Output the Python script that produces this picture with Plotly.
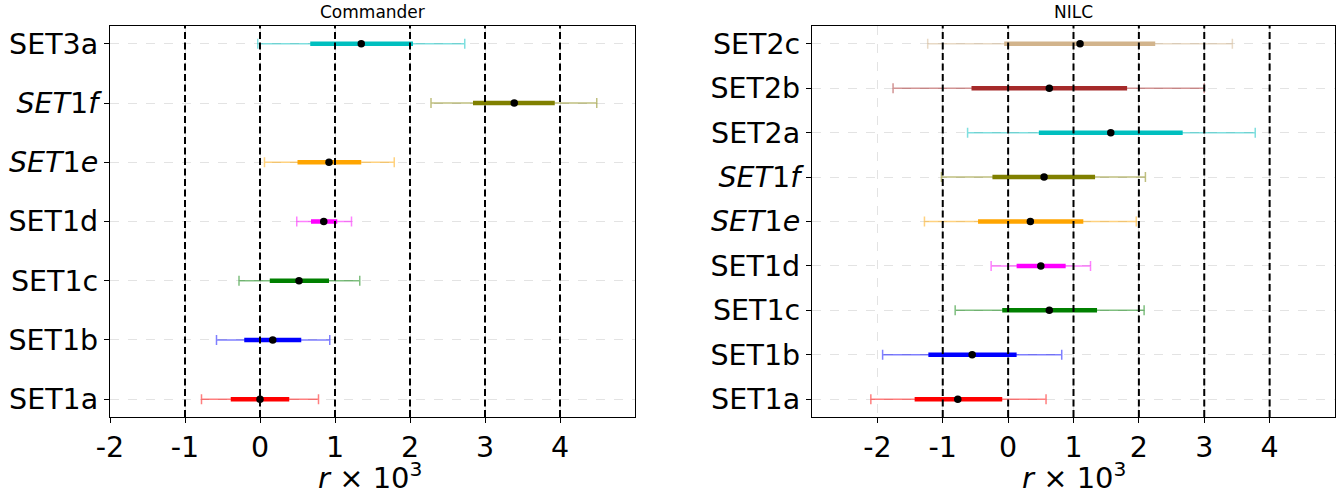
import plotly.graph_objects as go

# ---------------- data ----------------
# Commander panel (bottom to top)
cmd_labels = ["SET1a", "SET1b", "SET1c", "SET1d", "<i>SET</i>1<i>e</i>", "<i>SET</i>1<i>f</i>", "SET3a"]
cmd_center = [0.00, 0.17, 0.52, 0.85, 0.92, 3.39, 1.35]
cmd_lo68 = [-0.39, -0.21, 0.13, 0.68, 0.50, 2.84, 0.67]
cmd_hi68 = [0.39, 0.55, 0.92, 1.03, 1.35, 3.93, 2.04]
cmd_lo95 = [-0.78, -0.58, -0.28, 0.49, 0.06, 2.28, -0.03]
cmd_hi95 = [0.78, 0.93, 1.33, 1.22, 1.79, 4.49, 2.73]
cmd_colors = ["red", "blue", "green", "magenta", "orange", "olive", "c"]

# NILC panel (bottom to top)
nilc_labels = ["SET1a", "SET1b", "SET1c", "SET1d", "<i>SET</i>1<i>e</i>", "<i>SET</i>1<i>f</i>",
               "SET2a", "SET2b", "SET2c"]
nilc_center = [-0.77, -0.55, 0.63, 0.50, 0.34, 0.55, 1.57, 0.63, 1.10]
nilc_lo68 = [-1.43, -1.22, -0.09, 0.13, -0.46, -0.24, 0.47, -0.56, -0.06]
nilc_hi68 = [-0.09, 0.13, 1.36, 0.88, 1.15, 1.33, 2.67, 1.82, 2.25]
nilc_lo95 = [-2.10, -1.92, -0.81, -0.26, -1.28, -1.02, -0.62, -1.76, -1.23]
nilc_hi95 = [0.58, 0.82, 2.08, 1.26, 1.96, 2.10, 3.78, 3.00, 3.43]
nilc_colors = ["red", "blue", "green", "magenta", "orange", "olive", "c", "brown", "tan"]

x_ticks = [-2, -1, 0, 1, 2, 3, 4]
ref_lines = [-1, 0, 1, 2, 3, 4]

# ---------------- styling ----------------
COLORS = {
    "red": (255, 0, 0), "blue": (0, 0, 255), "green": (0, 128, 0),
    "magenta": (255, 0, 255), "orange": (255, 165, 0), "olive": (128, 128, 0),
    "c": (0, 191, 191), "brown": (165, 42, 42), "tan": (210, 180, 140),
}


def rgba(name, a):
    r, g, b = COLORS[name]
    return f"rgba({r},{g},{b},{a})"


FONT = "DejaVu Sans"
fig = go.Figure()


def add_panel(center, lo68, hi68, lo95, hi95, colors, xa, ya):
    for i in range(len(center)):
        c = center[i]
        # 95% thin bar with caps
        fig.add_trace(go.Scatter(
            x=[c], y=[i], mode="markers", marker=dict(size=1, opacity=0),
            error_x=dict(type="data", symmetric=False, array=[hi95[i] - c],
                         arrayminus=[c - lo95[i]], color=rgba(colors[i], 0.5),
                         thickness=1.5, width=5),
            xaxis=xa, yaxis=ya, showlegend=False, hoverinfo="skip"))
        # 68% thick bar
        fig.add_trace(go.Scatter(
            x=[c], y=[i], mode="markers", marker=dict(size=1, opacity=0),
            error_x=dict(type="data", symmetric=False, array=[hi68[i] - c],
                         arrayminus=[c - lo68[i]], color=rgba(colors[i], 1),
                         thickness=4.5, width=0),
            xaxis=xa, yaxis=ya, showlegend=False, hoverinfo="skip"))
    fig.add_trace(go.Scatter(
        x=center, y=list(range(len(center))), mode="markers",
        marker=dict(color="black", size=7.5), xaxis=xa, yaxis=ya, showlegend=False))


add_panel(cmd_center, cmd_lo68, cmd_hi68, cmd_lo95, cmd_hi95, cmd_colors, "x", "y")
add_panel(nilc_center, nilc_lo68, nilc_hi68, nilc_lo95, nilc_hi95, nilc_colors, "x2", "y2")

shapes = []
for xa, ya in (("x", "y"), ("x2", "y2")):
    for v in ref_lines:
        shapes.append(dict(type="line", xref=xa, yref=f"{ya} domain", x0=v, x1=v, y0=0, y1=1,
                           line=dict(color="black", width=2, dash="7px,3.5px"), layer="above"))

top = 1 - 26 / 491
bot = 1 - 417 / 491

axis_common = dict(
    showline=True, linecolor="black", linewidth=1.2, mirror=True,
    ticks="outside", ticklen=5, tickwidth=1, tickcolor="black",
    showgrid=True, gridcolor="#e3e3e3", griddash="dash", gridwidth=1,
    zeroline=False, tickfont=dict(family=FONT, size=28.5, color="black"),
    automargin=False,
)

XTITLE = "<i>r</i> × 10<sup>3</sup>"
TITLE_Y = 1 - 476 / 491

fig.update_layout(
    width=1344, height=491, margin=dict(l=0, r=0, t=0, b=0),
    paper_bgcolor="white", plot_bgcolor="white",
    font=dict(family=FONT, color="black"),
    shapes=shapes,
    xaxis=dict(domain=[110 / 1344, 635 / 1344], range=[-2, 5], tickvals=x_ticks,
               ticktext=[str(t) for t in x_ticks], anchor="y", **axis_common),
    yaxis=dict(domain=[bot, top], range=[-0.3, len(cmd_labels) - 0.7],
               tickvals=list(range(len(cmd_labels))), ticktext=cmd_labels, anchor="x",
               **axis_common),
    xaxis2=dict(domain=[812 / 1344, 1335 / 1344], range=[-3, 5], tickvals=x_ticks,
                ticktext=[str(t) for t in x_ticks], anchor="y2", **axis_common),
    yaxis2=dict(domain=[bot, top], range=[-0.4, len(nilc_labels) - 0.6],
                tickvals=list(range(len(nilc_labels))), ticktext=nilc_labels, anchor="x2",
                **axis_common),
    annotations=[
        dict(text="Commander", x=(110 + 635) / 2 / 1344, y=1 - 12 / 491, xref="paper", yref="paper",
             showarrow=False, font=dict(family=FONT, size=17, color="black"),
             xanchor="center", yanchor="middle"),
        dict(text="NILC", x=(812 + 1335) / 2 / 1344, y=1 - 12 / 491, xref="paper", yref="paper",
             showarrow=False, font=dict(family=FONT, size=17, color="black"),
             xanchor="center", yanchor="middle"),
        dict(text=XTITLE, x=370 / 1344, y=TITLE_Y, xref="paper", yref="paper",
             showarrow=False, font=dict(family=FONT, size=29, color="black"),
             xanchor="center", yanchor="middle"),
        dict(text=XTITLE, x=1074 / 1344, y=TITLE_Y, xref="paper", yref="paper",
             showarrow=False, font=dict(family=FONT, size=29, color="black"),
             xanchor="center", yanchor="middle"),
    ],
)

fig.write_html("out.html")
